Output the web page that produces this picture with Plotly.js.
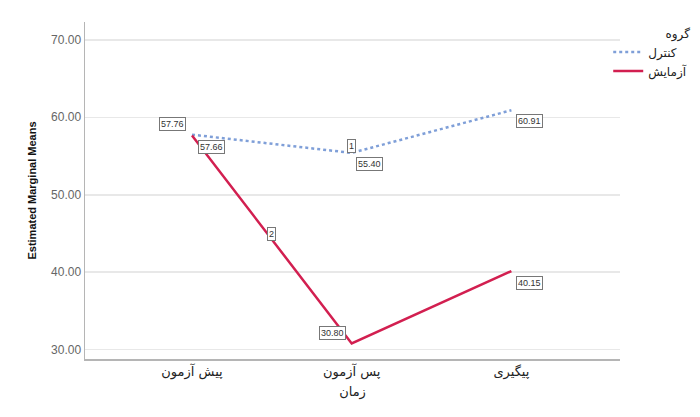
<!DOCTYPE html>
<html>
<head>
<meta charset="utf-8">
<script src="https://cdn.plot.ly/plotly-3.0.1.min.js"></script>
<style>html,body{margin:0;padding:0;background:#fff;}#chart{width:700px;height:417px;}</style>
</head>
<body>
<div id="chart"></div>
<script>
var categories = ["پیش آزمون", "پس آزمون", "پیگیری"];
var controlName = "کنترل";
var experimentName = "آزمایش";
var controlValues = [57.76, 55.40, 60.91];
var experimentValues = [57.66, 30.80, 40.15];
var yTickValues = [30, 40, 50, 60, 70];
var yTickLabels = ["30.00", "40.00", "50.00", "60.00", "70.00"];

var xIdx = [0, 1, 2];
var faFont = "DejaVu Sans, sans-serif";

var traces = [
  {
    x: xIdx, y: controlValues, name: controlName, type: "scatter", mode: "lines",
    line: {color: "#7f9fd8", width: 2.5, dash: "dot"}
  },
  {
    x: xIdx, y: experimentValues, name: experimentName, type: "scatter", mode: "lines",
    line: {color: "#d21f50", width: 2.5}
  }
];

function lab(x, y, t, dx, dy) {
  return {
    x: x, y: y, xref: "x", yref: "y", text: t, showarrow: false,
    xshift: dx, yshift: dy,
    font: {family: "Liberation Sans, Arial, sans-serif", size: 9, color: "#333"},
    bgcolor: "#fff", bordercolor: "#777", borderwidth: 1, borderpad: 1
  };
}

var ann = [
  lab(0, controlValues[0], controlValues[0].toFixed(2), -20, 11),
  lab(0, experimentValues[0], experimentValues[0].toFixed(2), 19, -12),
  lab(1, controlValues[1], controlValues[1].toFixed(2), 18, -11),
  lab(2, controlValues[2], controlValues[2].toFixed(2), 18, -11),
  lab(1, experimentValues[1], experimentValues[1].toFixed(2), -19, 11),
  lab(2, experimentValues[2], experimentValues[2].toFixed(2), 18, -12),
  lab(1, controlValues[1], "1", 0, 7),
  lab(0.5, (experimentValues[0] + experimentValues[1]) / 2, "2", 0, 5)
];

var layout = {
  width: 700, height: 417,
  margin: {l: 85, r: 80, t: 22, b: 58, autoexpand: false},
  paper_bgcolor: "#fff", plot_bgcolor: "#fff",
  showlegend: true,
  legend: {
    x: 1.135, y: 1.0, xanchor: "right", yanchor: "top",
    title: {text: "گروه", side: "top right", font: {family: faFont, size: 12, color: "#222"}},
    font: {family: faFont, size: 12, color: "#222"},
    tracegroupgap: 0, itemwidth: 30, bgcolor: "rgba(0,0,0,0)"
  },
  xaxis: {
    range: [-0.67, 2.68],
    tickvals: xIdx, ticktext: categories,
    tickfont: {family: faFont, size: 13, color: "#222"},
    showgrid: false, zeroline: false,
    showline: true, linecolor: "#b5b5b5", linewidth: 1.5,
    ticks: "",
    title: {text: "زمان", font: {family: faFont, size: 13, color: "#222"}, standoff: 8}
  },
  yaxis: {
    range: [28.8, 72.3],
    tickvals: yTickValues, ticktext: yTickLabels,
    tickfont: {family: "Liberation Sans, Arial, sans-serif", size: 12, color: "#666"},
    showgrid: true, gridcolor: "#e8e8e8", gridwidth: 1.5,
    zeroline: false, showline: true, linecolor: "#b5b5b5", linewidth: 1.5,
    ticks: "",
    title: {text: "<b>Estimated Marginal Means</b>", font: {family: "Liberation Sans, Arial, sans-serif", size: 11, color: "#111"}, standoff: 12}
  },
  annotations: ann
};

Plotly.newPlot("chart", traces, layout, {displayModeBar: false, staticPlot: true});
</script>
</body>
</html>
